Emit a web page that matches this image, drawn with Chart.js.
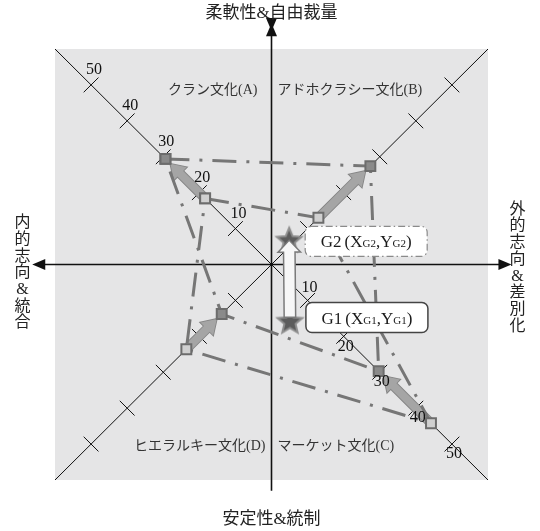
<!DOCTYPE html>
<html>
<head>
<meta charset="utf-8">
<script src="https://cdn.jsdelivr.net/npm/chart.js@4.4.0/dist/chart.umd.min.js"></script>
<style>
  html, body { margin: 0; padding: 0; background: #fff; }
  canvas { display: block; }
</style>
</head>
<body>
<canvas id="cultureChart" width="540" height="531"></canvas>
<script>
// quadrant order: A (upper left), B (upper right), C (lower right), D (lower left)
var quadrantSigns = [[-1, 1], [1, 1], [1, -1], [-1, -1]];
var quadrantNames = ['クラン文化(A)', 'アドホクラシー文化(B)', 'マーケット文化(C)', 'ヒエラルキー文化(D)'];
var g1Values = [18.4, 13.0, 44.2, 23.6];
var g2Values = [29.4, 27.4, 29.7, 13.8];
var g1Center = [5.1, -15.6];
var g2Center = [4.9, 7.0];
var diagTicks = [10, 20, 30, 40, 50];
var axisTitles = ['柔軟性&自由裁量', '外的志向&差別化', '安定性&統制', '内的志向&統合'];

var SERIF = "'Liberation Serif', 'Noto Sans CJK JP', serif";

function toPoints(values) {
    var pts = values.map(function (v, i) {
        return { x: quadrantSigns[i][0] * v, y: quadrantSigns[i][1] * v };
    });
    pts.push(pts[0]);
    return pts;
}

function starImage(r, fill, stroke) {
    var c = document.createElement('canvas');
    var s = Math.ceil(r * 2 + 6);
    c.width = s; c.height = s;
    var g = c.getContext('2d');
    g.translate(s / 2, s / 2 + 1.5);
    g.beginPath();
    for (var i = 0; i < 10; i++) {
        var rr = i % 2 ? r * 0.45 : r;
        var a = -Math.PI / 2 + i * Math.PI / 5;
        g.lineTo(rr * Math.cos(a), rr * Math.sin(a));
    }
    g.closePath();
    g.fillStyle = fill;
    g.fill();
    g.lineWidth = 2;
    g.strokeStyle = stroke;
    g.stroke();
    return c;
}

function drawArrow(ctx, x1, y1, x2, y2, shaft, headW, headL, fill, stroke, lw) {
    var ang = Math.atan2(y2 - y1, x2 - x1);
    var len = Math.hypot(x2 - x1, y2 - y1);
    ctx.save();
    ctx.translate(x1, y1);
    ctx.rotate(ang);
    ctx.beginPath();
    ctx.moveTo(0, -shaft / 2);
    ctx.lineTo(len - headL, -shaft / 2);
    ctx.lineTo(len - headL, -headW / 2);
    ctx.lineTo(len, 0);
    ctx.lineTo(len - headL, headW / 2);
    ctx.lineTo(len - headL, shaft / 2);
    ctx.lineTo(0, shaft / 2);
    ctx.closePath();
    ctx.lineJoin = 'miter';
    ctx.lineWidth = lw;
    ctx.strokeStyle = stroke;
    ctx.stroke();
    ctx.fillStyle = fill;
    ctx.fill();
    ctx.restore();
}

function roundRect(ctx, x, y, w, h, r) {
    ctx.beginPath();
    ctx.moveTo(x + r, y);
    ctx.arcTo(x + w, y, x + w, y + h, r);
    ctx.arcTo(x + w, y + h, x, y + h, r);
    ctx.arcTo(x, y + h, x, y, r);
    ctx.arcTo(x, y, x + w, y, r);
    ctx.closePath();
}

// "G1(XG1,YG1)" with the small G1 after X and Y
function drawCenterLabel(ctx, name, cx, cy) {
    var parts = [[name, 17], ['(', 17], ['X', 17], [name, 11], [',', 17], ['Y', 17], [name, 11], [')', 17]];
    var total = 0;
    parts.forEach(function (p) {
        ctx.font = p[1] + 'px ' + SERIF;
        p.push(ctx.measureText(p[0]).width);
        total += p[2];
    });
    total += 3;
    var x = cx - total / 2;
    ctx.textAlign = 'left';
    ctx.textBaseline = 'alphabetic';
    ctx.fillStyle = '#1a1a1a';
    parts.forEach(function (p, i) {
        ctx.font = p[1] + 'px ' + SERIF;
        ctx.fillText(p[0], x, cy + 6);
        x += p[2] + (i === 0 ? 3 : 0);
    });
}

var quadFrame = {
    id: 'quadFrame',
    beforeDraw: function (chart) {
        var a = chart.chartArea, ctx = chart.ctx;
        ctx.save();
        ctx.fillStyle = '#e5e5e6';
        ctx.fillRect(a.left, a.top, a.right - a.left, a.bottom - a.top);
        ctx.restore();
    },
    beforeDatasetsDraw: function (chart) {
        var ctx = chart.ctx, xs = chart.scales.x, ys = chart.scales.y;
        var px = function (v) { return xs.getPixelForValue(v); };
        var py = function (v) { return ys.getPixelForValue(v); };
        ctx.save();

        // diagonals
        ctx.strokeStyle = '#111';
        ctx.lineWidth = 1;
        ctx.beginPath();
        ctx.moveTo(px(-60), py(60)); ctx.lineTo(px(60), py(-60));
        ctx.moveTo(px(-60), py(-60)); ctx.lineTo(px(60), py(60));
        ctx.stroke();

        // tick marks across the diagonals
        ctx.beginPath();
        quadrantSigns.forEach(function (s) {
            diagTicks.forEach(function (t) {
                var x = s[0] * t, y = s[1] * t, d = 2.05;
                ctx.moveTo(px(x - s[1] * d), py(y + s[0] * d));
                ctx.lineTo(px(x + s[1] * d), py(y - s[0] * d));
            });
        });
        ctx.stroke();

        // main axes with arrow heads
        var cx = px(0), cy = py(0);
        ctx.lineWidth = 1.6;
        ctx.beginPath();
        ctx.moveTo(px(-64), cy); ctx.lineTo(px(64), cy);
        ctx.moveTo(cx, py(64.5)); ctx.lineTo(cx, py(-63));
        ctx.stroke();
        ctx.fillStyle = '#111';
        var heads = [[px(-66.3), cy, 1, 0], [px(66.5), cy, -1, 0], [cx, py(67.2), 0, 1], [cx, py(65), 0, -1]];
        heads.forEach(function (h) {
            var L = 13, W = 5.5;
            ctx.beginPath();
            ctx.moveTo(h[0], h[1]);
            ctx.lineTo(h[0] + h[2] * L - h[3] * W, h[1] + h[3] * L + h[2] * W);
            ctx.lineTo(h[0] + h[2] * L + h[3] * W, h[1] + h[3] * L - h[2] * W);
            ctx.closePath();
            ctx.fill();
        });

        // arrows from G1 vertices to G2 vertices
        quadrantSigns.forEach(function (s, i) {
            var x1 = px(s[0] * g1Values[i]), y1 = py(s[1] * g1Values[i]);
            var x2 = px(s[0] * g2Values[i]), y2 = py(s[1] * g2Values[i]);
            var len = Math.hypot(x2 - x1, y2 - y1);
            var k = (len - 7) / len;
            drawArrow(ctx, x1, y1, x1 + (x2 - x1) * k, y1 + (y2 - y1) * k, 8, 18, 14, '#a5a5a5', '#858585', 1.8);
        });
        ctx.restore();
    },
    afterDatasetsDraw: function (chart) {
        var ctx = chart.ctx, xs = chart.scales.x, ys = chart.scales.y;
        var px = function (v) { return xs.getPixelForValue(v); };
        var py = function (v) { return ys.getPixelForValue(v); };
        var cx = px(0), cy = py(0);
        ctx.save();

        // G1 -> G2 arrow
        var s1 = [px(g1Center[0]), py(g1Center[1])];
        var s2 = [px(g2Center[0]), py(g2Center[1])];
        drawArrow(ctx, s1[0], s1[1] - 4, s2[0], s2[1] + 2, 10, 19, 10, '#f7f7f7', '#7a7a7a', 3);

        // label boxes next to the stars
        [[s2, 'G2', 2, true], [s1, 'G1', -3, false]].forEach(function (b) {
            var bx = b[0][0] + 16, by = b[0][1] + b[2] - 15;
            roundRect(ctx, bx, by, 122, 30, 6);
            ctx.fillStyle = '#fff';
            ctx.fill();
            if (b[3]) {
                ctx.setLineDash([7, 3, 1.5, 3]);
                ctx.strokeStyle = '#8a8a8a';
                ctx.lineWidth = 1.2;
            } else {
                ctx.setLineDash([]);
                ctx.strokeStyle = '#444';
                ctx.lineWidth = 1.5;
            }
            ctx.stroke();
            ctx.setLineDash([]);
            drawCenterLabel(ctx, b[1], bx + 61, by + 15);
        });

        // diagonal tick values, upper left and lower right
        ctx.font = '16px ' + SERIF;
        ctx.fillStyle = '#111';
        ctx.textAlign = 'center';
        ctx.textBaseline = 'middle';
        diagTicks.forEach(function (t) {
            ctx.fillText(String(t), px(-t) + 3, py(t) - 15);
            var above = t === diagTicks[0];
            ctx.fillText(String(t), px(t) + 2, py(-t) + (above ? -13 : 10));
        });

        // quadrant names
        ctx.font = '14px ' + SERIF;
        ctx.fillStyle = '#333';
        var yTop = py(48.5), yBot = py(-50.7);
        ctx.textAlign = 'right';
        ctx.fillText(quadrantNames[0], cx - 14, yTop);
        ctx.fillText(quadrantNames[3], cx - 6, yBot);
        ctx.textAlign = 'left';
        ctx.fillText(quadrantNames[1], cx + 6, yTop);
        ctx.fillText(quadrantNames[2], cx + 6, yBot);

        // axis titles
        ctx.font = '17px ' + SERIF;
        ctx.fillStyle = '#222';
        ctx.textAlign = 'center';
        ctx.fillText(axisTitles[0], cx, 14);
        ctx.fillText(axisTitles[2], cx, 520);
        ctx.font = '16px ' + SERIF;
        var vertical = function (text, x, yMid) {
            var chars = Array.from(text), step = 16.7;
            var y0 = yMid - (chars.length - 1) * step / 2;
            chars.forEach(function (ch, i) { ctx.fillText(ch, x, y0 + i * step); });
        };
        vertical(axisTitles[1], 517.5, 268);
        vertical(axisTitles[3], 22.5, 273);
        ctx.restore();
    }
};

var ctx = document.getElementById('cultureChart').getContext('2d');
var cultureChart = new Chart(ctx, {
    type: 'scatter',
    data: {
        datasets: [{
            label: 'G',
            data: [{ x: g1Center[0], y: g1Center[1] }, { x: g2Center[0], y: g2Center[1] }],
            pointStyle: starImage(13, '#5c5c5c', '#8e8e8e'),
            showLine: false
        }, {
            label: 'G2',
            data: toPoints(g2Values),
            showLine: true,
            borderColor: '#767676',
            borderWidth: 3,
            borderDash: [24, 10, 3, 10],
            pointStyle: 'rect',
            pointRadius: 7,
            pointBackgroundColor: '#8a8a8a',
            pointBorderColor: '#6c6c6c',
            pointBorderWidth: 2
        }, {
            label: 'G1',
            data: toPoints(g1Values),
            showLine: true,
            borderColor: '#767676',
            borderWidth: 3,
            borderDash: [24, 10, 3, 10],
            pointStyle: 'rect',
            pointRadius: 7,
            pointBackgroundColor: '#d0d0d0',
            pointBorderColor: '#6c6c6c',
            pointBorderWidth: 2
        }]
    },
    options: {
        responsive: false,
        animation: false,
        events: [],
        layout: { padding: { left: 55, right: 52, top: 49, bottom: 51 } },
        scales: {
            x: { type: 'linear', min: -60, max: 60, display: false },
            y: { type: 'linear', min: -60, max: 60, display: false }
        },
        plugins: {
            legend: { display: false },
            tooltip: { enabled: false }
        }
    },
    plugins: [quadFrame]
});
</script>
</body>
</html>
